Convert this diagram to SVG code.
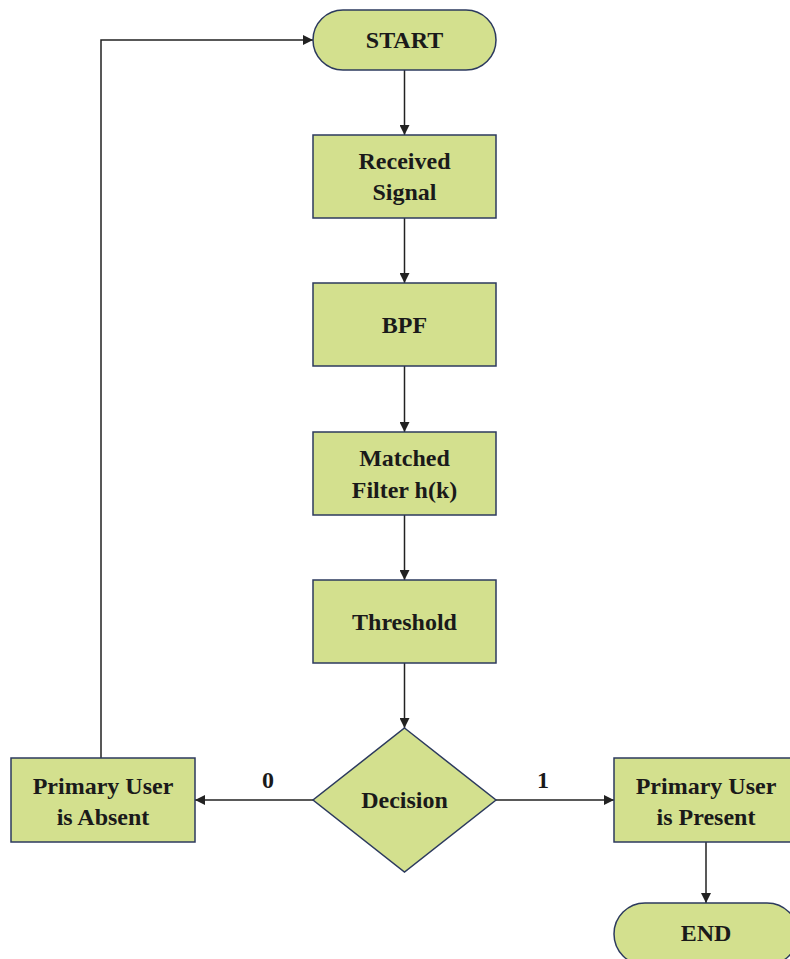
<svg xmlns="http://www.w3.org/2000/svg" width="790" height="959" viewBox="0 0 790 959">
  <style>
    .node { fill: #d3e08e; stroke: #2c3a5e; stroke-width: 1.5; }
    .label { font-family: "Liberation Serif", "Times New Roman", serif; font-weight: bold; font-size: 24px; fill: #1a1a1a; text-anchor: middle; dominant-baseline: central; }
    .edge { fill: none; stroke: #222; stroke-width: 1.5; }
  </style>
  <defs>
    <marker id="arrow" viewBox="0 0 10 10" refX="10" refY="5" markerWidth="11" markerHeight="10" markerUnits="userSpaceOnUse" orient="auto">
      <path d="M0,0 L10,5 L0,10 z" fill="#222"/>
    </marker>
  </defs>

  <rect width="790" height="959" fill="#ffffff"/>

  <g id="connectors">
    <line class="edge" x1="404.5" y1="70" x2="404.5" y2="135" marker-end="url(#arrow)"/>
    <line class="edge" x1="404.5" y1="218" x2="404.5" y2="283" marker-end="url(#arrow)"/>
    <line class="edge" x1="404.5" y1="366" x2="404.5" y2="432" marker-end="url(#arrow)"/>
    <line class="edge" x1="404.5" y1="515" x2="404.5" y2="580" marker-end="url(#arrow)"/>
    <line class="edge" x1="404.5" y1="663" x2="404.5" y2="728" marker-end="url(#arrow)"/>
    <line class="edge" x1="313" y1="800" x2="195" y2="800" marker-end="url(#arrow)"/>
    <line class="edge" x1="496" y1="800" x2="614" y2="800" marker-end="url(#arrow)"/>
    <polyline class="edge" points="101,758 101,40 313,40" marker-end="url(#arrow)"/>
    <line class="edge" x1="706" y1="842" x2="706" y2="903" marker-end="url(#arrow)"/>
    <text class="label" x="268" y="780">0</text>
    <text class="label" x="543" y="780">1</text>
  </g>

  <g id="start">
    <rect class="node" x="313" y="10" width="183" height="60" rx="30" ry="30"/>
    <text class="label" x="404.5" y="40">START</text>
  </g>

  <g id="received-signal">
    <rect class="node" x="313" y="135" width="183" height="83"/>
    <text class="label" x="404.5" y="161">Received</text>
    <text class="label" x="404.5" y="192">Signal</text>
  </g>

  <g id="bpf">
    <rect class="node" x="313" y="283" width="183" height="83"/>
    <text class="label" x="404.5" y="325">BPF</text>
  </g>

  <g id="matched-filter">
    <rect class="node" x="313" y="432" width="183" height="83"/>
    <text class="label" x="404.5" y="458">Matched</text>
    <text class="label" x="404.5" y="490">Filter h(k)</text>
  </g>

  <g id="threshold">
    <rect class="node" x="313" y="580" width="183" height="83"/>
    <text class="label" x="404.5" y="622">Threshold</text>
  </g>

  <g id="decision">
    <polygon class="node" points="404.5,728 496,800 404.5,872 313,800"/>
    <text class="label" x="404.5" y="800">Decision</text>
  </g>

  <g id="user-absent">
    <rect class="node" x="11" y="758" width="184" height="84"/>
    <text class="label" x="103" y="786">Primary User</text>
    <text class="label" x="103" y="817">is Absent</text>
  </g>

  <g id="user-present">
    <rect class="node" x="614" y="758" width="184" height="84"/>
    <text class="label" x="706" y="786">Primary User</text>
    <text class="label" x="706" y="817">is Present</text>
  </g>

  <g id="end">
    <rect class="node" x="614" y="903" width="184" height="62" rx="31" ry="31"/>
    <text class="label" x="706" y="933">END</text>
  </g>
</svg>
